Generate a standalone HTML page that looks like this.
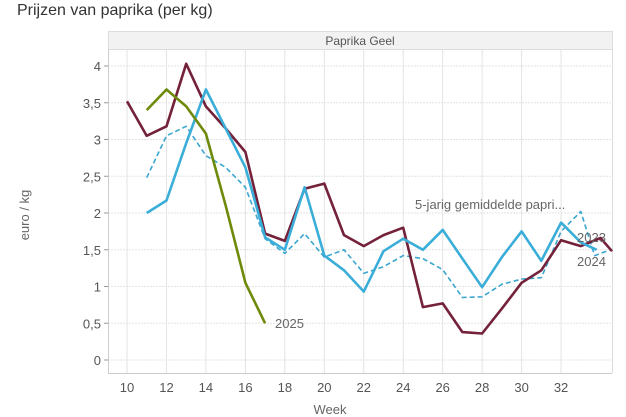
<!DOCTYPE html>
<html><head><meta charset="utf-8"><style>
html,body{margin:0;padding:0;background:#fff;}
svg{display:block;font-family:"Liberation Sans",sans-serif;}
</style></head><body>
<svg id="c" width="626" height="417" viewBox="0 0 626 417" xmlns="http://www.w3.org/2000/svg">
<text x="17" y="15" font-size="16" fill="#333">Prijzen van paprika (per kg)</text>
<rect x="108.5" y="31.5" width="504" height="18" fill="#f2f2f2" stroke="#dcdcdc"/>
<text x="360" y="45" font-size="12" fill="#555" text-anchor="middle">Paprika Geel</text>
<g id="grid"></g>
<line x1="108.5" y1="50" x2="108.5" y2="373" stroke="#ccc"/>
<line x1="108" y1="373.5" x2="612" y2="373.5" stroke="#ccc"/>
<line x1="612.5" y1="50" x2="612.5" y2="373" stroke="#dcdcdc"/>
<g id="series"></g>
<text x="275" y="328" font-size="13" fill="#666">2025</text>
<text x="577" y="242" font-size="13" fill="#666">2023</text>
<text x="577" y="266" font-size="13" fill="#666">2024</text>
<text x="415" y="209" font-size="13" fill="#666">5-jarig gemiddelde papri...</text>
<text transform="translate(29,215) rotate(-90)" font-size="13" fill="#666" text-anchor="middle">euro / kg</text>
<text x="330" y="414" font-size="13" fill="#666" text-anchor="middle">Week</text>
</svg>
<script>
const X=w=>127+(w-10)*19.73, Y=v=>360-v*73.5;
const ns="http://www.w3.org/2000/svg";
let g=document.getElementById('grid'),h='';
for(let w=10;w<=32;w+=2){h+=`<line x1="${X(w)}" y1="50" x2="${X(w)}" y2="373" stroke="#e3e3e3"/><text x="${X(w)}" y="392" font-size="13" fill="#555" text-anchor="middle">${w}</text>`;}
const labs=['0','0,5','1','1,5','2','2,5','3','3,5','4'];
for(let i=0;i<9;i++){let v=i*0.5;h+=`<line x1="108" y1="${Y(v)}" x2="612" y2="${Y(v)}" stroke="#e3e3e3" stroke-dasharray="2,1"/><line x1="104" y1="${Y(v)}" x2="108" y2="${Y(v)}" stroke="#999"/><text x="101" y="${Y(v)+5}" font-size="13" fill="#555" text-anchor="end">${labs[i]}</text>`;}
g.innerHTML=h;
function pl(pts,col,dash,wd){return `<polyline fill="none" stroke="${col}" stroke-width="${wd}" ${dash?'stroke-dasharray="5,3"':''} stroke-linejoin="round" points="${pts.map(p=>X(p[0]).toFixed(1)+','+Y(p[1]).toFixed(1)).join(' ')}"/>`;}
const dash=[[11,2.48],[12,3.05],[13,3.18],[14,2.78],[15,2.62],[16,2.35],[17,1.65],[18,1.45],[19,1.72],[20,1.4],[21,1.5],[22,1.18],[23,1.27],[24,1.42],[25,1.38],[26,1.23],[27,0.85],[28,0.86],[29,1.03],[30,1.1],[31,1.12],[32,1.75],[33,2.02],[33.7,1.42],[34.5,1.5]];
const maroon=[[10,3.52],[11,3.05],[12,3.18],[13,4.03],[14,3.45],[15,3.15],[16,2.83],[17,1.72],[18,1.62],[19,2.33],[20,2.4],[21,1.7],[22,1.55],[23,1.7],[24,1.8],[25,0.72],[26,0.77],[27,0.38],[28,0.36],[29,0.7],[30,1.05],[31,1.22],[32,1.63],[33,1.55],[34,1.66],[34.58,1.48]];
const blue=[[11,2.0],[12,2.17],[13,2.95],[14,3.68],[15,3.15],[16,2.62],[17,1.67],[18,1.5],[19,2.35],[20,1.42],[21,1.22],[22,0.93],[23,1.48],[24,1.65],[25,1.5],[26,1.77],[27,1.38],[28,0.99],[29,1.4],[30,1.75],[31,1.35],[32,1.87],[33,1.6],[33.8,1.5]];
const green=[[11,3.4],[12,3.68],[13,3.45],[14,3.08],[15,2.1],[16,1.05],[17,0.5]];
document.getElementById('series').innerHTML=pl(dash,'#3aa6cf',1,1.6)+pl(maroon,'#74213a',0,2.6)+pl(blue,'#3aaed8',0,2.6)+pl(green,'#6e8a0a',0,2.6);
</script>
</body></html>
